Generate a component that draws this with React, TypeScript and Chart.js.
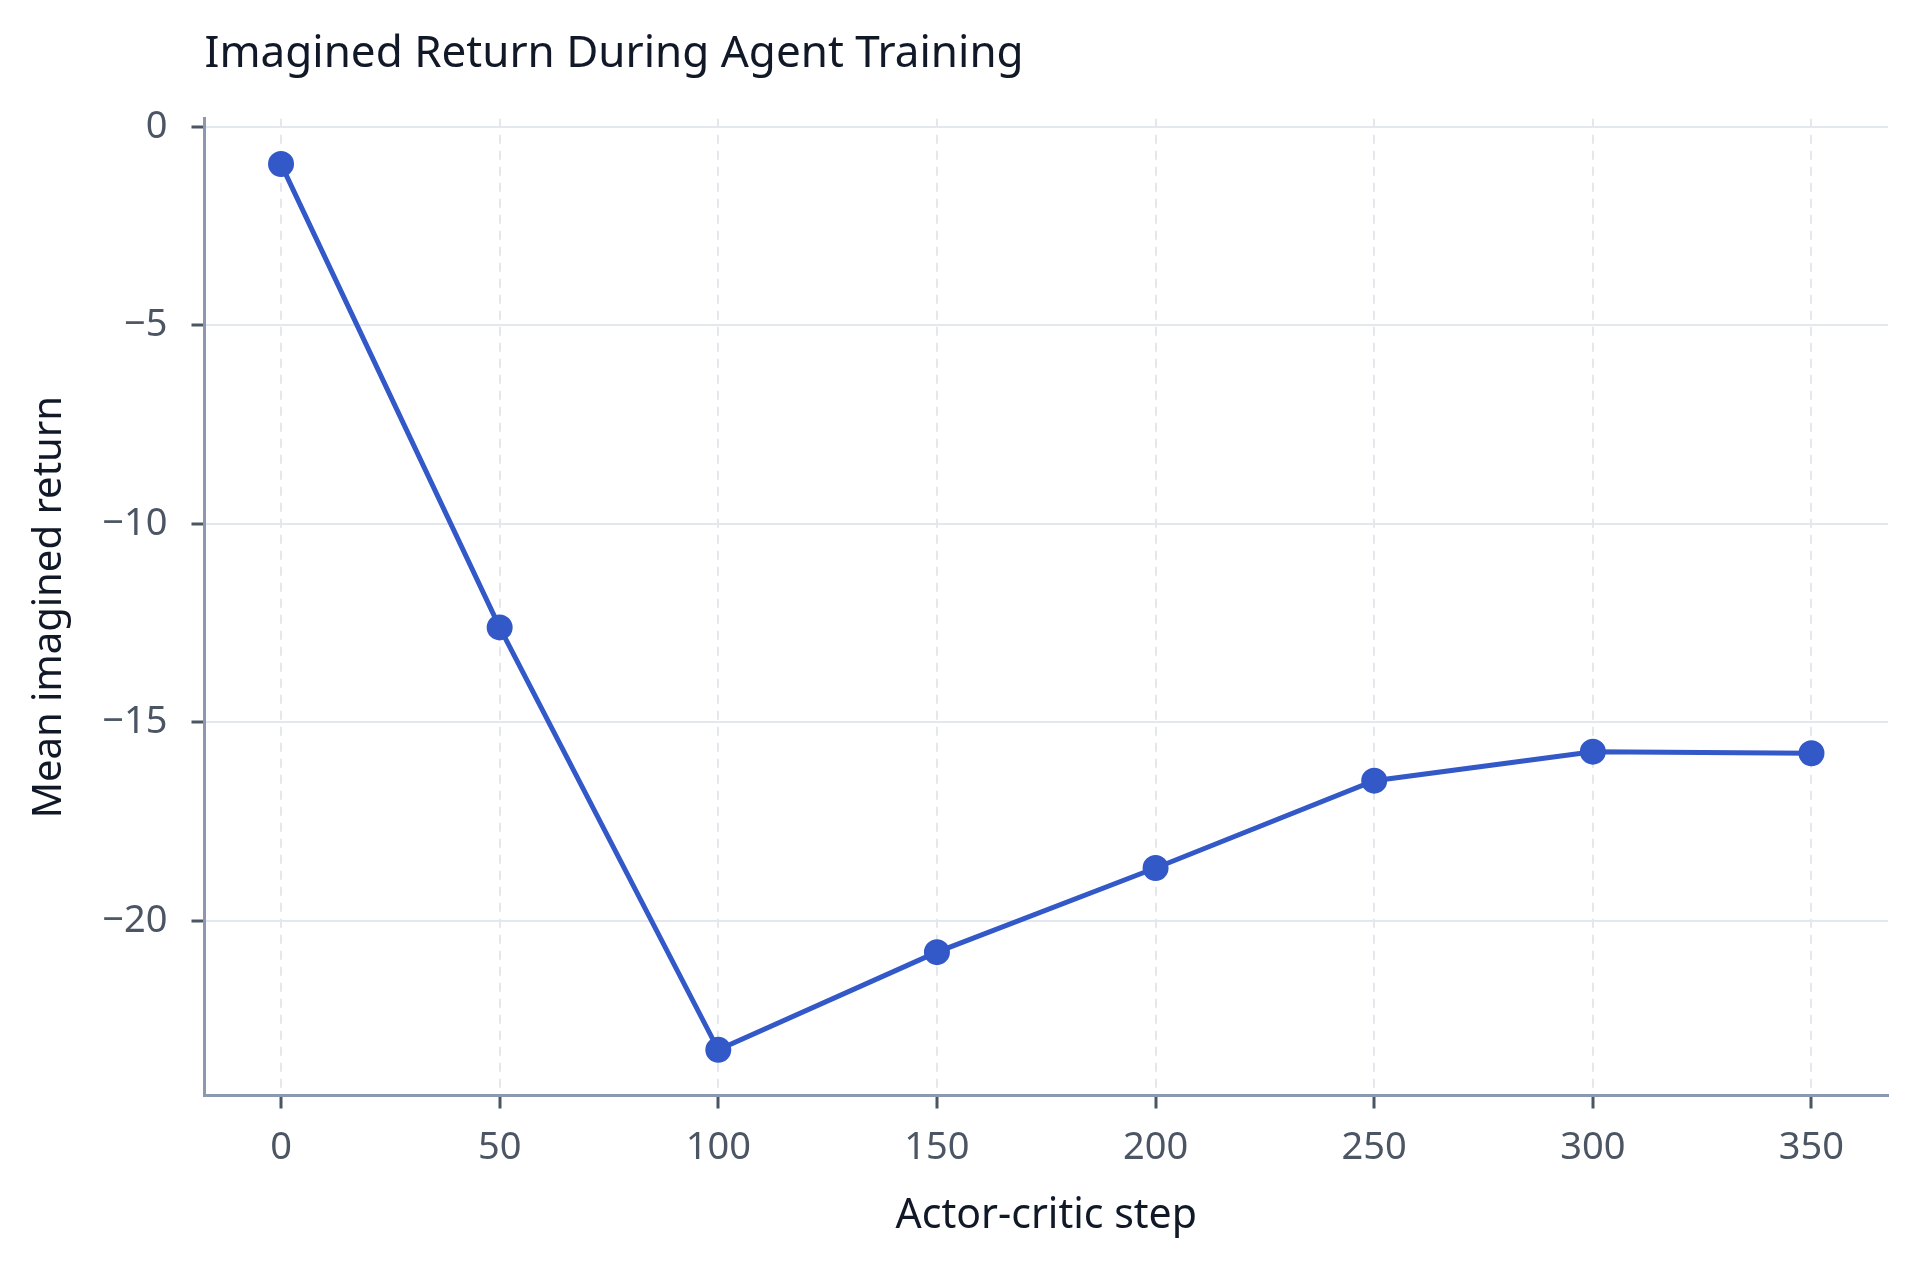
import Chart from 'chart.js/auto';
import { useEffect, useRef } from 'react';

const steps = [0, 50, 100, 150, 200, 250, 300, 350];
const meanReturn = [-0.94, -12.61, -23.25, -20.79, -18.67, -16.47, -15.74, -15.78];
const xTicks = [0, 50, 100, 150, 200, 250, 300, 350];
const yTicks = [0, -5, -10, -15, -20];

const FONT = "'Noto Sans', 'Open Sans', sans-serif";

// tick labels use a real minus sign, as in the original
const fmt = (v: number | string) => String(v).replace('-', '\u2212');

export default function App() {
  const chartRef = useRef<HTMLCanvasElement | null>(null);

  useEffect(() => {
    if (!chartRef.current) return;
    const chart = new Chart(chartRef.current, {
      type: 'line',
      data: {
        datasets: [
          {
            label: 'Mean imagined return',
            data: steps.map((s, i) => ({ x: s, y: meanReturn[i] })),
            borderColor: '#3358c8',
            backgroundColor: '#3358c8',
            borderWidth: 5,
            pointRadius: 12,
            pointBorderWidth: 2,
            pointBackgroundColor: '#3358c8',
            pointBorderColor: '#3358c8',
            tension: 0,
          },
        ],
      },
      options: {
        animation: false,
        responsive: true,
        maintainAspectRatio: false,
        layout: { padding: { left: 0, right: 32, top: 0, bottom: 0 } },
        plugins: {
          legend: { display: false },
          tooltip: { enabled: false },
          title: {
            display: true,
            text: 'Imagined Return During Agent Training',
            align: 'start',
            fullSize: false,
            color: '#111827',
            font: { family: FONT, size: 44, weight: 'normal' },
            padding: { top: 28, bottom: 38 },
          },
        },
        scales: {
          x: {
            type: 'linear',
            min: -17.5,
            max: 367.5,
            afterBuildTicks: (s) => {
              s.ticks = xTicks.map((v) => ({ value: v }));
            },
            afterFit: (s) => {
              s.height = 1269 - 1095.5;
            },
            ticks: {
              color: '#4b5563',
              font: { family: FONT, size: 38 },
              padding: 17,
              maxRotation: 0,
              callback: (v) => fmt(v),
            },
            grid: {
              color: '#e3e7ee',
              lineWidth: 2,
              tickColor: '#4b5563',
              tickWidth: 3,
              tickLength: 13,
            },
            border: { color: '#8c97b0', width: 3, dash: [9, 7] },
            title: {
              display: true,
              text: 'Actor-critic step',
              color: '#111827',
              font: { family: FONT, size: 41 },
              padding: { top: 0, bottom: 28 },
            },
          },
          y: {
            type: 'linear',
            min: -24.4,
            max: 0.2,
            afterBuildTicks: (s) => {
              s.ticks = yTicks.map((v) => ({ value: v }));
            },
            afterFit: (s) => {
              s.width = 204.5;
            },
            ticks: {
              color: '#4b5563',
              font: { family: FONT, size: 38 },
              padding: 24,
              callback: (v) => fmt(v),
            },
            grid: {
              color: '#e3e7ee',
              lineWidth: 2,
              tickColor: '#4b5563',
              tickWidth: 3,
              tickLength: 13,
            },
            border: { color: '#8c97b0', width: 3 },
            title: {
              display: true,
              text: 'Mean imagined return',
              color: '#111827',
              font: { family: FONT, size: 40 },
              padding: { top: 26, bottom: 0 },
            },
          },
        },
      },
    });

    return () => chart.destroy();
  }, []);

  return (
    <div style={{ position: 'absolute', left: 0, top: 0, width: 1920, height: 1269, background: '#fff' }}>
      <canvas ref={chartRef}></canvas>
    </div>
  );
}
